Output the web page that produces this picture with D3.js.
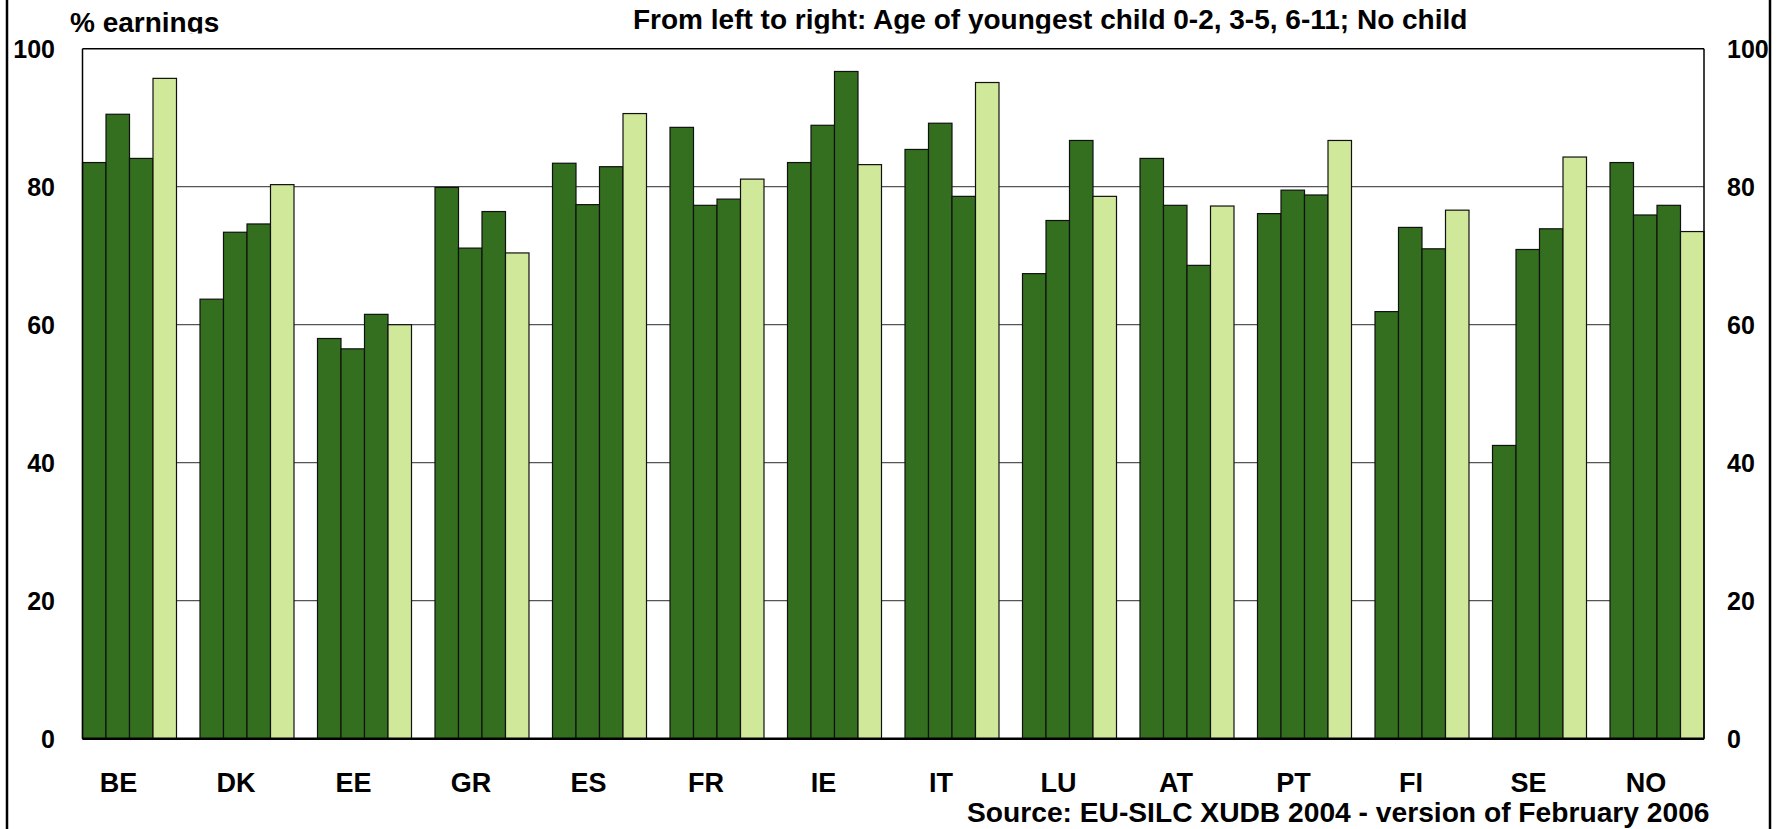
<!DOCTYPE html>
<html>
<head>
<meta charset="utf-8">
<script src="https://cdn.jsdelivr.net/npm/d3@7"></script>
<style>
  html, body { margin: 0; padding: 0; background: #fff; }
  svg { display: block; }
  text { font-family: "Liberation Sans", Arial, sans-serif; font-weight: bold; fill: #000; }
</style>
</head>
<body>
<svg id="chart" width="1782" height="829"></svg>
<script>
const categories = ["BE","DK","EE","GR","ES","FR","IE","IT","LU","AT","PT","FI","SE","NO"];
const seriesNames = ["0-2","3-5","6-11","No child"];
const age0_2   = [83.5,63.7,58.0,79.9,83.4,88.6,83.5,85.4,67.4,84.1,76.1,61.9,42.5,83.5];
const age3_5   = [90.5,73.4,56.5,71.1,77.4,77.3,88.9,89.2,75.1,77.3,79.5,74.1,70.9,75.9];
const age6_11  = [84.1,74.6,61.5,76.4,82.9,78.2,96.7,78.6,86.7,68.6,78.8,71.0,73.9,77.3];
const noChild  = [95.7,80.3,60.0,70.4,90.6,81.1,83.2,95.1,78.6,77.2,86.7,76.6,84.3,73.5];
const yTicks = [0,20,40,60,80,100];
const seriesColors = ["#336f1f","#336f1f","#336f1f","#cfe89a"];
const titleText = "From left to right: Age of youngest child 0-2, 3-5, 6-11; No child";
const yTitle = "% earnings";
const sourceText = "Source: EU-SILC XUDB 2004 - version of February 2006";

const allSeries = [age0_2, age3_5, age6_11, noChild];
const rows = categories.map((c, i) => ({cat: c, vals: allSeries.map((s, k) => ({key: seriesNames[k], k, v: s[i]}))}));

const svg = d3.select("#chart");
const pLeft = 82.5, pRight = 1704, pTop = 48.7, pBottom = 738.7;

const x0 = d3.scaleBand().domain(categories).range([pLeft, pRight]).paddingInner(0.2).paddingOuter(0);
const x1 = d3.scaleBand().domain(seriesNames).range([0, x0.bandwidth()]).padding(0);
const y = d3.scaleLinear().domain([0, 100]).range([pBottom, pTop]);

// frame lines
svg.append("line").attr("x1", 7).attr("x2", 7).attr("y1", 0).attr("y2", 829).attr("stroke", "#000").attr("stroke-width", 2.5);
svg.append("line").attr("x1", 1770).attr("x2", 1770).attr("y1", 0).attr("y2", 829).attr("stroke", "#000").attr("stroke-width", 2.5);

// gridlines
svg.append("g").selectAll("line").data(yTicks.filter(t => t > 0 && t < 100)).join("line")
  .attr("x1", pLeft).attr("x2", pRight)
  .attr("y1", d => y(d)).attr("y2", d => y(d))
  .attr("stroke", "#555").attr("stroke-width", 1.2);

// bars
const groups = svg.append("g").selectAll("g").data(rows).join("g")
  .attr("transform", d => `translate(${x0(d.cat)},0)`);
groups.selectAll("rect").data(d => d.vals).join("rect")
  .attr("x", d => x1(d.key))
  .attr("y", d => y(d.v))
  .attr("width", x1.bandwidth())
  .attr("height", d => y(0) - y(d.v))
  .attr("fill", d => seriesColors[d.k])
  .attr("stroke", "#111").attr("stroke-width", 1.2);

// plot border
svg.append("line").attr("x1", pLeft).attr("x2", pRight).attr("y1", pTop).attr("y2", pTop).attr("stroke", "#000").attr("stroke-width", 1.5);
svg.append("line").attr("x1", pLeft).attr("x2", pLeft).attr("y1", pTop).attr("y2", pBottom).attr("stroke", "#000").attr("stroke-width", 1.5);
svg.append("line").attr("x1", pRight).attr("x2", pRight).attr("y1", pTop).attr("y2", pBottom).attr("stroke", "#000").attr("stroke-width", 1.5);
svg.append("line").attr("x1", pLeft).attr("x2", pRight).attr("y1", pBottom).attr("y2", pBottom).attr("stroke", "#000").attr("stroke-width", 2.5);

// axes
const yAxisL = d3.axisLeft(y).tickValues(yTicks).tickSize(0).tickPadding(27.5).tickFormat(d3.format("d"));
const gL = svg.append("g").attr("transform", `translate(${pLeft},0)`).call(yAxisL);
gL.select(".domain").remove();
gL.selectAll("text").style("font-size", "25px").attr("dy", "0.36em");

const yAxisR = d3.axisRight(y).tickValues(yTicks).tickSize(0).tickPadding(23).tickFormat(d3.format("d"));
const gR = svg.append("g").attr("transform", `translate(${pRight},0)`).call(yAxisR);
gR.select(".domain").remove();
gR.selectAll("text").style("font-size", "25px").attr("dy", "0.36em");

const xAxis = d3.axisBottom(x0).tickSize(0).tickPadding(0);
const gX = svg.append("g").attr("transform", `translate(-11,${pBottom})`).call(xAxis);
gX.select(".domain").remove();
gX.selectAll("text").style("font-size", "27px").attr("y", 53).attr("dy", 0);

// top texts clipped just under their baselines
const clip = svg.append("defs").append("clipPath").attr("id", "topclip");
clip.append("rect").attr("x", 0).attr("y", 0).attr("width", 1782).attr("height", 33.5);
const topG = svg.append("g").attr("clip-path", "url(#topclip)");
topG.append("text").attr("x", 70).attr("y", 31.7).style("font-size", "28px").text(yTitle);
topG.append("text").attr("x", 633).attr("y", 29).style("font-size", "28px").text(titleText);

svg.append("text").attr("x", 967).attr("y", 821.5).style("font-size", "28.2px").text(sourceText);
</script>
</body>
</html>
